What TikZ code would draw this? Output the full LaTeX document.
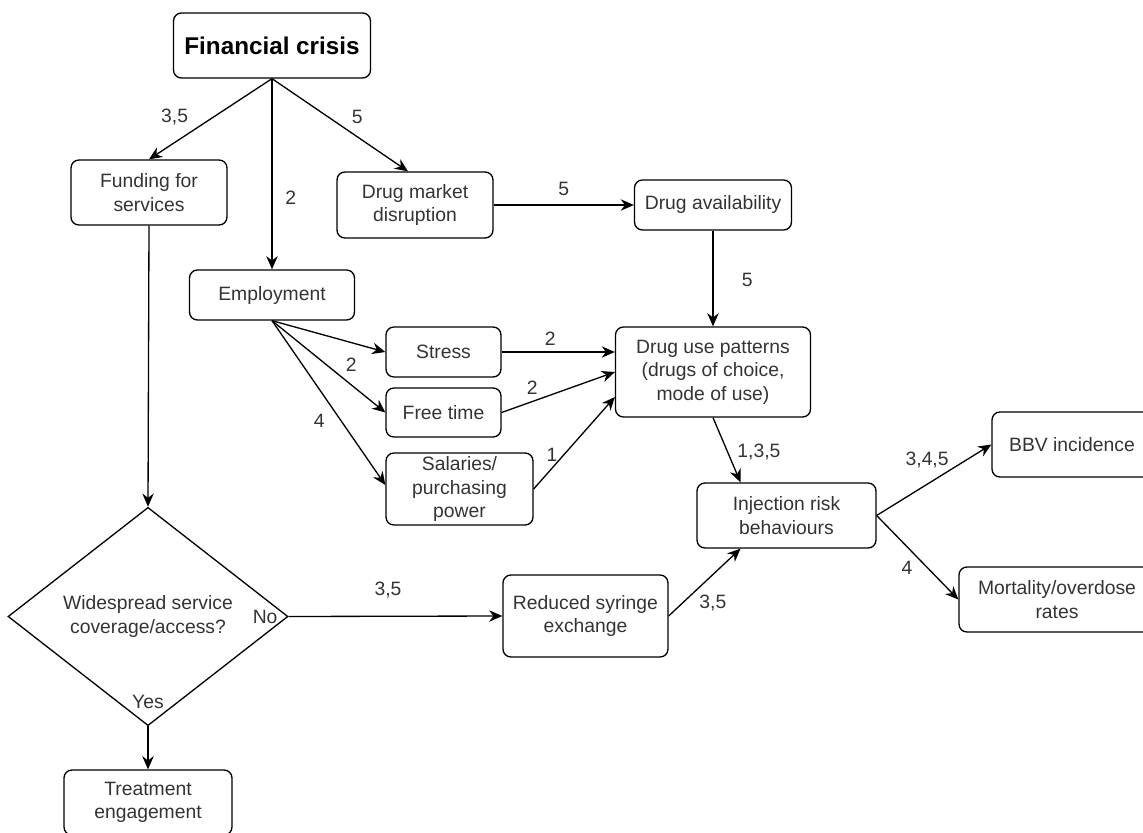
\documentclass[tikz,border=0pt]{standalone}
\usepackage{fontspec}
\setmainfont{Liberation Sans}
\usetikzlibrary{arrows.meta, positioning, calc, shapes.geometric}

\begin{document}
\begin{tikzpicture}[
  x=0.02cm, y=-0.02cm,
  box/.style={rectangle, rounded corners=4.5pt, draw=black, line width=0.75pt,
              font=\fontsize{11}{13.4}\selectfont, text=black!80,
              align=center, inner sep=2pt},
  decision/.style={diamond, draw=black, line width=0.75pt, inner sep=1pt,
              minimum width=5.6cm, minimum height=3.66cm,
              font=\fontsize{11}{13.4}\selectfont, text=black!80, align=center},
  arrow/.style={-{Stealth[length=7.5pt, width=6.5pt]}, line width=0.75pt},
  lbl/.style={font=\fontsize{11}{13.4}\selectfont, text=black!80, inner sep=1pt}
]
\useasboundingbox (0,0) rectangle (1143,832);

\node[box, font=\fontsize{13.8}{16}\selectfont\bfseries, text=black,
      minimum width=3.94cm, minimum height=1.3cm] (crisis) at (272,45.5) {Financial crisis};
\node[box, minimum width=3.12cm, minimum height=1.3cm]  (funding) at (149,192.5) {Funding for\\services};
\node[box, minimum width=3.12cm, minimum height=1.32cm] (market)  at (415,205)   {Drug market\\disruption};
\node[box, minimum width=3.14cm, minimum height=1cm]    (avail)   at (713,205)   {Drug availability};
\node[box, minimum width=3.3cm,  minimum height=1cm]    (employ)  at (272,295)   {Employment};
\node[box, minimum width=2.3cm,  minimum height=1cm]    (stress)  at (443.5,352) {Stress};
\node[box, minimum width=2.3cm,  minimum height=0.98cm] (free)    at (443.5,412.5) {Free time};
\node[box, minimum width=2.94cm, minimum height=1.44cm, inner sep=0pt] (salary) at (459.5,489) {Salaries/\\purchasing\\power};
\node[box, minimum width=3.9cm,  minimum height=1.8cm]  (pattern) at (713,372)   {Drug use patterns\\(drugs of choice,\\mode of use)};
\node[box, minimum width=3.58cm, minimum height=1.3cm]  (inject)  at (786.5,515.5) {Injection risk\\behaviours};
\node[box, minimum width=3.2cm,  minimum height=1.3cm]  (bbv)     at (1072,444.5) {BBV incidence};
\node[box, minimum width=3.92cm, minimum height=1.3cm]  (mortal)  at (1057,599.5) {Mortality/overdose\\rates};
\node[decision] (access) at (148,616.5) {Widespread service\\coverage/access?};
\node[box, minimum width=3.3cm,  minimum height=1.64cm] (syringe) at (585.5,616) {Reduced syringe\\exchange};
\node[box, minimum width=3.36cm, minimum height=1.3cm]  (treat)   at (148,802.5) {Treatment\\engagement};

\draw[arrow] (crisis.south) -- node[lbl, pos=.48, left=0.45cm] {3,5} (funding.north);
\draw[arrow] (crisis.south) -- node[lbl, pos=.625, right=0.22cm] {2} (employ.north);
\draw[arrow] (crisis.south) -- node[lbl, pos=.415, right=0.42cm] {5} ($(market.north)+(-7,0)$);
\draw[arrow] (market.east) -- node[lbl, above=0.13cm] {5} (avail.west);
\draw[arrow] (avail.south) -- node[lbl, pos=.52, right=0.53cm] {5} (pattern.north);

\draw[arrow] (employ.south) -- (stress.west);
\draw[arrow] (employ.south) -- node[lbl, pos=.7, above=0.23cm] {2} (free.west);
\draw[arrow] (employ.south) -- node[lbl, pos=.61, left=0.28cm] {4} ($(salary.west)+(0,-4)$);

\draw[arrow] (stress.east) -- node[lbl, pos=.43, above=0.08cm] {2} (pattern.west |- stress.east);
\draw[arrow] (free.east) -- node[lbl, pos=.27, above=0.1cm] {2} (pattern.west);
\draw[arrow] (salary.east) -- node[lbl, pos=.37, left=0.08cm] {1} ($(pattern.west)+(0,25)$);

\draw[arrow] (pattern.south) -- node[lbl, pos=.53, right=0.15cm] {1,3,5} ($(inject.north)+(-46,0)$);
\draw[arrow] (syringe.east) -- node[lbl, pos=.2, right=0.28cm] {3,5} ($(inject.south)+(-46,0)$);
\draw[arrow] (inject.east) -- node[lbl, pos=.44, above=0.28cm] {3,4,5} (bbv.west);
\draw[arrow] (inject.east) -- node[lbl, pos=.62, left=0.25cm] {4} (mortal.west);

\draw[arrow] (funding.south) -- (access.north);
\draw[arrow] (access.east) -- node[lbl, pos=.465, above=0.32cm] {3,5}
  node[lbl, pos=0, left=0.175cm] {No} (syringe.west);
\draw[arrow] (access.south) -- node[lbl, pos=0, above=0.3cm] {Yes} (treat.north);

\end{tikzpicture}
\end{document}
